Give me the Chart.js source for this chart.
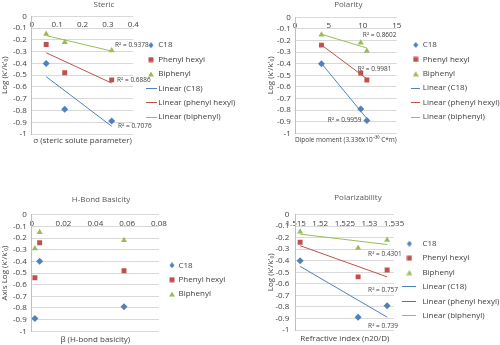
<!DOCTYPE html>
<html>
<head>
<meta charset="utf-8">
<script src="https://cdn.jsdelivr.net/npm/chart.js@4.4.1/dist/chart.umd.min.js"></script>
<style>
  html, body { margin: 0; padding: 0; background: #fff; }
  #wrap { position: relative; width: 500px; height: 345px; }
  canvas { position: absolute; }
</style>
</head>
<body>
<div id="wrap">
  <canvas id="steric" width="250" height="172" style="left:0;top:0"></canvas>
  <canvas id="polarity" width="250" height="172" style="left:250px;top:0"></canvas>
  <canvas id="hbond" width="250" height="173" style="left:0;top:172px"></canvas>
  <canvas id="polarizability" width="250" height="173" style="left:250px;top:172px"></canvas>
</div>
<script>
// series
var seriesNames = ["C18", "Phenyl hexyl", "Biphenyl"];
var trendNames = ["Linear (C18)", "Linear (phenyl hexyl)", "Linear (biphenyl)"];

// log(k'/k'0) of the three solutes on each phase
var c18 = [-0.40, -0.79, -0.89];
var phenylHexyl = [-0.24, -0.48, -0.54];
var biphenyl = [-0.15, -0.22, -0.29];

// solute descriptors, same solute order
var stericX = [0.057, 0.13, 0.315];
var dipoleX = [3.9, 9.7, 10.6];
var hbondX = [0.005, 0.058, 0.002];
var refractiveX = [1.5159, 1.5336, 1.5277];

// R^2 of the trend lines (C18, phenyl hexyl, biphenyl)
var stericR2 = ["0.7076", "0.6886", "0.9378"];
var dipoleR2 = ["0.9959", "0.9981", "0.8602"];
var refractiveR2 = ["0.739", "0.757", "0.4301"];

// tick labels
var yTicks = [-1, -0.9, -0.8, -0.7, -0.6, -0.5, -0.4, -0.3, -0.2, -0.1, 0];
var stericTicks = [0, 0.1, 0.2, 0.3, 0.4];
var dipoleTicks = [0, 5, 10, 15];
var hbondTicks = [0, 0.02, 0.04, 0.06, 0.08];
var refractiveTicks = [1.515, 1.52, 1.525, 1.53, 1.535];

var colors = ["#4f81bd", "#c0504d", "#9bbb59"];
var markers = ["rectRot", "rect", "triangle"];
var legendFont = "8px 'Open Sans', sans-serif";
var legendPad = 6.4;

Chart.defaults.font.family = "'Open Sans', sans-serif";
Chart.defaults.font.size = 8;
Chart.defaults.color = "#404040";

// least squares line between the smallest and largest x
function fitLine(xs, ys) {
  var n = xs.length, mx = 0, my = 0, sxy = 0, sxx = 0, i;
  for (i = 0; i < n; i++) { mx += xs[i] / n; my += ys[i] / n; }
  for (i = 0; i < n; i++) { sxy += (xs[i] - mx) * (ys[i] - my); sxx += (xs[i] - mx) * (xs[i] - mx); }
  var b = sxy / sxx;
  var lo = Math.min.apply(null, xs), hi = Math.max.apply(null, xs);
  return [{ x: lo, y: my + b * (lo - mx) }, { x: hi, y: my + b * (hi - mx) }];
}

// small pictures for the legend markers
function legendIcon(style, color, len) {
  var c = document.createElement("canvas");
  var ctx;
  if (style === "line") {
    c.width = len; c.height = 1;
    ctx = c.getContext("2d");
    ctx.fillStyle = color;
    ctx.fillRect(0, 0, len, 1);
    return c;
  }
  c.width = 6; c.height = 6;
  ctx = c.getContext("2d");
  ctx.fillStyle = color;
  ctx.beginPath();
  if (style === "rectRot") { ctx.moveTo(3, 0); ctx.lineTo(5.5, 3); ctx.lineTo(3, 6); ctx.lineTo(0.5, 3); }
  else if (style === "rect") { ctx.rect(0.5, 0.5, 5, 5); }
  else { ctx.moveTo(3, 0.5); ctx.lineTo(6, 5.5); ctx.lineTo(0, 5.5); }
  ctx.closePath();
  ctx.fill();
  return c;
}

function textWidth(list) {
  var ctx = document.createElement("canvas").getContext("2d");
  ctx.font = legendFont;
  return Math.max.apply(null, list.map(function (t) { return ctx.measureText(t).width; }));
}

function makeDatasets(xs, withTrend) {
  var ys = [c18, phenylHexyl, biphenyl];
  var sets = ys.map(function (vals, i) {
    return {
      label: seriesNames[i],
      data: xs.map(function (x, j) { return { x: x, y: vals[j] }; }),
      pointStyle: markers[i],
      pointRadius: 3.5,
      pointHoverRadius: 3.5,
      pointBorderWidth: 0,
      backgroundColor: colors[i],
      borderColor: colors[i],
      showLine: false
    };
  });
  if (withTrend) {
    ys.forEach(function (vals, i) {
      sets.push({
        label: trendNames[i],
        data: fitLine(xs, vals),
        showLine: true,
        isTrend: true,
        borderColor: colors[i],
        backgroundColor: colors[i],
        borderWidth: 1,
        pointRadius: 0,
        pointHoverRadius: 0
      });
    });
  }
  return sets;
}

var headingPlugin = {
  id: "heading",
  afterDraw: function (chart, args, opts) {
    var ctx = chart.ctx;
    ctx.save();
    ctx.font = "8px 'Open Sans', sans-serif";
    ctx.fillStyle = "#595959";
    ctx.textAlign = "center";
    ctx.textBaseline = "middle";
    ctx.fillText(opts.text, opts.x, opts.y);
    ctx.restore();
  }
};

var r2Plugin = {
  id: "r2Labels",
  afterDatasetsDraw: function (chart, args, opts) {
    if (!opts.values) return;
    var ctx = chart.ctx;
    ctx.save();
    ctx.font = "6.5px 'Open Sans', sans-serif";
    ctx.fillStyle = "#404040";
    ctx.textAlign = "left";
    ctx.textBaseline = "middle";
    opts.values.forEach(function (v, i) {
      var meta = chart.getDatasetMeta(3 + i);
      var end = meta.data[meta.data.length - 1];
      ctx.fillText("R\u00b2 = " + v, end.x + opts.offsets[i][0], end.y + opts.offsets[i][1]);
    });
    ctx.restore();
  }
};

function buildChart(id, o) {
  var canvas = document.getElementById(id);
  var labels = o.r2 ? seriesNames.concat(trendNames) : seriesNames;
  // legend box = 10 + padding + box + half font + text; place it so the plot ends at o.plotRight
  var legendWidth = 10 + legendPad + o.boxW + 4 + textWidth(labels);
  var pad = Object.assign({}, o.pad, { right: canvas.width - o.plotRight - o.gap - legendWidth });

  return new Chart(canvas, {
    type: "scatter",
    data: { datasets: makeDatasets(o.xs, !!o.r2) },
    options: {
      responsive: false,
      animation: false,
      events: [],
      layout: { padding: pad },
      scales: {
        x: {
          type: "linear",
          position: "top",
          min: o.ticks[0],
          max: o.ticks[o.ticks.length - 1],
          afterBuildTicks: function (s) { s.ticks = o.ticks.map(function (v) { return { value: v }; }); },
          afterFit: function (s) { s.height = 0; },
          ticks: { mirror: true, padding: 4, autoSkip: false, maxRotation: 0, minRotation: 0,
                   callback: function (v) { return String(v); } },
          grid: { display: false, drawTicks: false },
          border: { display: false }
        },
        xTitle: {
          type: "linear",
          position: "bottom",
          ticks: { display: false },
          grid: { display: false, drawTicks: false },
          border: { display: false },
          title: { display: true, text: o.xTitle, align: o.xAlign || "center", padding: o.xTitlePad }
        },
        y: {
          min: -1,
          max: 0,
          afterBuildTicks: function (s) { s.ticks = yTicks.map(function (v) { return { value: v }; }); },
          afterFit: function (s) { s.width = o.plotLeft - o.pad.left; },
          ticks: { padding: o.yTickPad, autoSkip: false, callback: function (v) { return String(v); } },
          grid: { color: "#d9d9d9", drawTicks: false },
          border: { color: "#bfbfbf" },
          title: { display: true, text: o.yTitle, padding: { top: 0, bottom: 0 } }
        },
        gap: {
          type: "linear",
          position: "right",
          ticks: { display: false },
          grid: { display: false, drawTicks: false },
          border: { display: false },
          afterFit: function (s) { s.width = o.gap; }
        }
      },
      plugins: {
        legend: {
          position: "right",
          align: "center",
          maxWidth: 250,
          labels: {
            usePointStyle: true,
            pointStyleWidth: o.boxW,
            padding: legendPad,
            color: "#404040",
            font: { size: 8 },
            generateLabels: function (chart) {
              var items = Chart.defaults.plugins.legend.labels.generateLabels(chart);
              items.forEach(function (it) {
                var ds = chart.data.datasets[it.datasetIndex];
                it.pointStyle = legendIcon(ds.isTrend ? "line" : ds.pointStyle, ds.borderColor, o.lineLen);
              });
              return items;
            }
          }
        },
        tooltip: { enabled: false },
        heading: o.heading,
        r2Labels: { values: o.r2, offsets: o.r2Offsets }
      }
    },
    plugins: [headingPlugin, r2Plugin]
  });
}

buildChart("steric", {
  xs: stericX, ticks: stericTicks,
  xTitle: "\u03c3 (steric solute parameter)", xTitlePad: { top: 1.9, bottom: 0.6 },
  yTitle: "Log (k'/k'\u2080)", yTickPad: 5,
  pad: { top: 16.3, bottom: 25.9, left: 0 },
  plotLeft: 31.7, plotRight: 133.3, gap: 8, boxW: 6.6, lineLen: 11,
  heading: { text: "Steric", x: 104, y: 5 },
  r2: stericR2, r2Offsets: [[6.3, 0], [5.3, -3], [3.3, -6]]
});

buildChart("polarity", {
  xs: dipoleX, ticks: dipoleTicks,
  xTitle: "Dipole moment (3.336x10\u207b\u00b3\u2070 C*m)", xAlign: "start", xTitlePad: { top: 1.8, bottom: 0 },
  yTitle: "Log (k'/k'\u2080)", yTickPad: 4.3,
  pad: { top: 17.3, bottom: 27.3, left: 15.9 },
  plotLeft: 45, plotRight: 146.7, gap: 9.6, boxW: 6, lineLen: 9,
  heading: { text: "Polarity", x: 98.3, y: 5 },
  r2: dipoleR2, r2Offsets: [[-39, 2], [-9, -10], [-4, -13]]
});

buildChart("hbond", {
  xs: hbondX, ticks: hbondTicks,
  xTitle: "\u03b2 (H-bond basicity)", xTitlePad: { top: 3.8, bottom: 0 },
  yTitle: "Axis Log (k'/k'\u2080)", yTickPad: 5,
  pad: { top: 42.7, bottom: 0.3, left: 0 },
  plotLeft: 31.7, plotRight: 159, gap: 4.1, boxW: 5, lineLen: 10,
  heading: { text: "H-Bond Basicity", x: 101, y: 27.3 }
});

buildChart("polarizability", {
  xs: refractiveX, ticks: refractiveTicks,
  xTitle: "Refractive index (n20/D)", xTitlePad: { top: 3.9, bottom: 1.5 },
  yTitle: "Log (k'/k'\u2080)", yTickPad: 6.4,
  pad: { top: 42.5, bottom: 0, left: 15.9 },
  plotLeft: 45.7, plotRight: 144, gap: 0, boxW: 18, lineLen: 14,
  heading: { text: "Polarizability", x: 108, y: 25.7 },
  r2: refractiveR2, r2Offsets: [[-19, 9], [-19, 13.4], [-19, 9.2]]
});
</script>
</body>
</html>
